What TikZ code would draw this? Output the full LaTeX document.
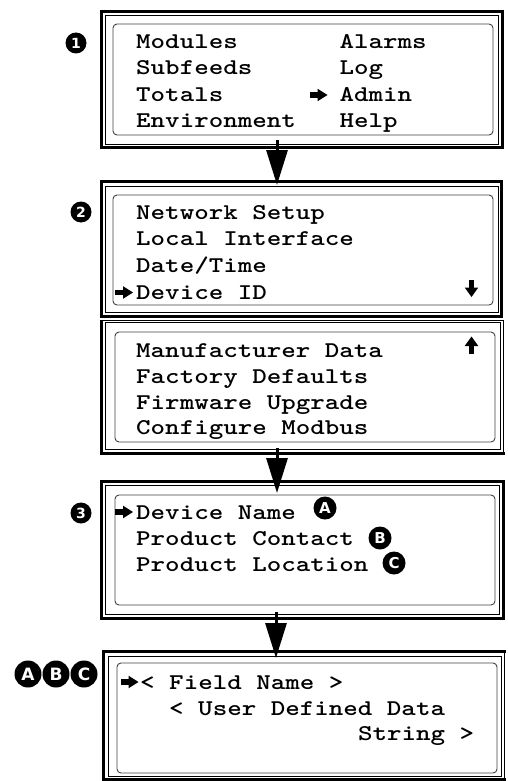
\documentclass[tikz,border=0pt]{standalone}
\usepackage{fontspec}
\newfontfamily\badgefont{DejaVu Sans}
\usetikzlibrary{arrows.meta}
\newcommand{\lcdtext}[1]{\scalebox{1.229}[1]{#1}}
\tikzset{
  thickframe/.style={draw, line width=3pt, inner sep=0pt, outer sep=0pt},
  openframe/.style={draw=none, inner sep=0pt, outer sep=0pt},
  thinline/.style={line width=0.9pt},
  screen/.style={draw=black!75, line width=0.9pt, rounded corners=4pt},
  lcd/.style={anchor=base west, inner sep=0pt, font=\fontsize{22.5}{24}\selectfont\ttfamily\bfseries},
  numbadge/.style={circle, fill=black, text=white, inner sep=0pt, minimum size=21pt, font=\fontsize{14}{14}\selectfont\badgefont\bfseries},
  letbadge/.style={circle, fill=black, text=white, inner sep=0pt, minimum size=23pt, font=\fontsize{15}{15}\selectfont\badgefont\bfseries},
  bigbadge/.style={circle, fill=black, text=white, inner sep=0pt, minimum size=27pt, font=\fontsize{17}{17}\selectfont\badgefont\bfseries},
  conn/.style={line width=3pt, -{Triangle[length=35pt,width=21pt]}},
  pointer/.pic={\fill (-9,-2.8) rectangle (0,2.8); \fill (-1,-6.3) -- (9,0) -- (-1,6.3) -- cycle;},
  downptr/.pic={\fill (-2.8,-8.5) rectangle (2.8,0); \fill (-6.8,-1) -- (6.8,-1) -- (0,8.5) -- cycle;},
  upptr/.pic={\fill (-2.8,8.5) rectangle (2.8,0); \fill (-6.8,1) -- (6.8,1) -- (0,-8.5) -- cycle;}
}
\begin{document}
\begin{tikzpicture}[x=1pt,y=-1pt]
\useasboundingbox (0,0) rectangle (507,781);

% ---------- Frame 1 ----------
\node[thickframe, minimum width=401pt, minimum height=136pt] (f1) at (302,79.5) {};
\draw[thinline] (105,15) rectangle (498,144);
\draw[screen] (113,24) rectangle (493,135);
\node[numbadge] (b1) at (76,43) {1};
\node[lcd] (t11) at (136,48.5) {\lcdtext{Modules}};
\node[lcd] (t12) at (339.3,48.5) {\lcdtext{Alarms}};
\node[lcd] (t13) at (136,75) {\lcdtext{Subfeeds}};
\node[lcd] (t14) at (339.3,75) {\lcdtext{Log}};
\node[lcd] (t15) at (136,101.5) {\lcdtext{Totals}};
\pic at (318.5,95) {pointer};
\node[lcd] (t16) at (339.3,101.5) {\lcdtext{Admin}};
\node[lcd] (t17) at (136,128) {\lcdtext{Environment}};
\node[lcd] (t18) at (339.3,128) {\lcdtext{Help}};

% ---------- Frame 2, part 1 ----------
\node[thickframe, minimum width=400pt, minimum height=135pt] (f2a) at (301.5,249) {};
\draw[thinline] (105,186) rectangle (498,312);
\draw[screen] (113,195) rectangle (493,305);
\node[numbadge] (b2) at (81,212) {2};
\node[lcd] (t21) at (136,219) {\lcdtext{Network Setup}};
\node[lcd] (t22) at (136,245.7) {\lcdtext{Local Interface}};
\node[lcd] (t23) at (136,272.3) {\lcdtext{Date/Time}};
\pic at (124,292.5) {pointer};
\node[lcd] (t24) at (136,299) {\lcdtext{Device ID}};
\pic at (471.5,288.5) {downptr};

% ---------- Frame 2, part 2 ----------
\node[openframe, minimum width=402pt, minimum height=133.5pt] (f2b) at (302.5,386.75) {};
\draw[line width=3pt] (f2b.north west) -- (f2b.south west) -- ([xshift=1pt]f2b.south east);
\draw[thinline] (f2b.south east) -- (f2b.north east) -- (f2b.north west);
\draw[thinline] (105,322) rectangle (500,449);
\draw[screen] (115,332) rectangle (495,442);
\pic at (471.5,345) {upptr};
\node[lcd] (t25) at (136,357) {\lcdtext{Manufacturer Data}};
\node[lcd] (t26) at (136,383.5) {\lcdtext{Factory Defaults}};
\node[lcd] (t27) at (136,409) {\lcdtext{Firmware Upgrade}};
\node[lcd] (t28) at (136,434.5) {\lcdtext{Configure Modbus}};

% ---------- Frame 3 ----------
\node[thickframe, minimum width=402pt, minimum height=137pt] (f3) at (302.5,550) {};
\draw[thinline] (105,485) rectangle (499,614);
\draw[screen] (115,495) rectangle (495,605);
\node[numbadge] (b3) at (81,513) {3};
\pic at (124,512) {pointer};
\node[lcd] (t31) at (136,519) {\lcdtext{Device Name}};
\node[letbadge] (ba) at (325,508) {A};
\node[lcd] (t32) at (136,545) {\lcdtext{Product Contact}};
\node[letbadge] (bb) at (380,538) {B};
\node[lcd] (t33) at (136,571.5) {\lcdtext{Product Location}};
\node[letbadge] (bc) at (394,563) {C};

% ---------- Frame 4 ----------
\node[openframe, minimum width=401pt, minimum height=128pt] (f4) at (304,715.5) {};
\draw[line width=3pt] ([xshift=1.5pt]f4.north east) -- (f4.north west) -- (f4.south west) -- ([xshift=1.5pt]f4.south east);
\draw[thinline] (f4.north east) -- (f4.south east);
\draw[thinline] (108,656) rectangle (501,776);
\draw[screen] (117,663) rectangle (497,773);
\node[bigbadge] (xa) at (28,674) {A};
\node[bigbadge] (xb) at (56,674) {B};
\node[bigbadge] (xc) at (84,674) {C};
\pic at (129.5,682) {pointer};
\node[lcd] (t41) at (140,689) {\lcdtext{< Field Name >}};
\node[lcd] (t42) at (169,715) {\lcdtext{< User Defined Data}};
\node[lcd] (t43) at (357.8,740) {\lcdtext{String >}};

% ---------- Connectors ----------
\draw[conn] ([xshift=-25pt,yshift=7.5pt]f1.south) -- ([xshift=-24.5pt,yshift=-3.5pt]f2a.north);
\draw[conn] ([xshift=-25.5pt,yshift=5.5pt]f2b.south) -- ([xshift=-25.5pt,yshift=-11.5pt]f3.north);
\draw[conn] ([xshift=-26.5pt,yshift=6.5pt]f3.south) -- ([xshift=-28pt,yshift=-6.5pt]f4.north);
\end{tikzpicture}
\end{document}
